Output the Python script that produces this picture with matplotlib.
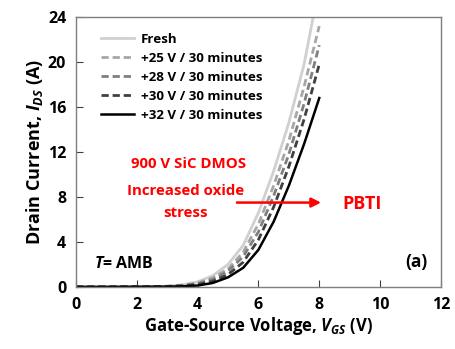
import numpy as np
import matplotlib
matplotlib.use('Agg')
import matplotlib.pyplot as plt

plt.rcParams['font.family'] = ['Open Sans', 'DejaVu Sans']
plt.rcParams['font.weight'] = 'bold'
plt.rcParams['axes.labelweight'] = 'bold'
plt.rcParams['mathtext.fontset'] = 'custom'
plt.rcParams['mathtext.it'] = 'Open Sans:italic:bold'
plt.rcParams['mathtext.rm'] = 'Open Sans:bold'

# gate voltage grid (V) and drain current (A)
vgs = [0, 1, 2, 3, 3.5, 4, 4.5, 5, 5.5, 6, 6.5, 7, 7.5, 8]
vgs_fresh = [0, 1, 2, 3, 3.5, 4, 4.5, 5, 5.5, 6, 6.5, 7, 7.5, 7.8]
ids_fresh = [0, 0, 0.02, 0.06, 0.18, 0.45, 1.0, 2.0, 3.7, 6.6, 10.3, 14.6, 19.8, 24.0]
ids_25 = [0, 0, 0.02, 0.05, 0.15, 0.35, 0.8, 1.6, 3.1, 5.6, 9.0, 13.0, 17.8, 23.2]
ids_28 = [0, 0, 0.02, 0.04, 0.12, 0.28, 0.65, 1.4, 2.7, 4.9, 8.1, 11.8, 16.3, 21.5]
ids_30 = [0, 0, 0.01, 0.03, 0.08, 0.2, 0.5, 1.1, 2.2, 4.2, 7.1, 10.7, 14.9, 19.8]
ids_32 = [0, 0, 0.01, 0.02, 0.05, 0.12, 0.35, 0.85, 1.7, 3.3, 5.8, 9.0, 12.7, 16.8]

labels = ['Fresh', '+25 V / 30 minutes', '+28 V / 30 minutes',
          '+30 V / 30 minutes', '+32 V / 30 minutes']

fig = plt.figure(figsize=(4.55, 3.49), dpi=100)
ax = fig.add_axes([0.167, 0.178, 0.802, 0.773])

dash = (0, (2.6, 1.4))
ax.plot(vgs_fresh, ids_fresh, color='#d0d0d0', lw=2, label=labels[0])
ax.plot(vgs, ids_25, color='#a6a6a6', lw=2, ls=dash, label=labels[1])
ax.plot(vgs, ids_28, color='#7f7f7f', lw=2, ls=dash, label=labels[2])
ax.plot(vgs, ids_30, color='#404040', lw=2, ls=dash, label=labels[3])
ax.plot(vgs, ids_32, color='black', lw=1.8, label=labels[4])

ax.set_xlim(0, 12)
ax.set_ylim(0, 24)
ax.set_xticks(range(0, 13, 2))
ax.set_yticks(range(0, 25, 4))
ax.tick_params(direction='in', length=5, labelsize=11.5, color='#404040', pad=7)
for s in ax.spines.values():
    s.set_color('#7f7f7f')
    s.set_linewidth(1)

ax.set_xlabel('Gate-Source Voltage, $V_{GS}$ (V)', fontsize=12, labelpad=2)
ax.set_ylabel('Drain Current, $I_{DS}$ (A)', fontsize=13, labelpad=2)

ax.legend(loc='upper left', frameon=False, fontsize=9.6, handlelength=2.5,
          handletextpad=0.5, labelspacing=0.45, borderaxespad=0.8,
          bbox_to_anchor=(0.025, 1.0))

ax.text(3.7, 10.9, '900 V SiC DMOS', color='red', fontsize=10.8, ha='center', va='center')
ax.text(3.6, 8.5, 'Increased oxide', color='red', fontsize=10.8, ha='center', va='center')
ax.text(3.6, 6.6, 'stress', color='red', fontsize=10.8, ha='center', va='center')
ax.annotate('', xy=(8.15, 7.5), xytext=(5.2, 7.5),
            arrowprops=dict(arrowstyle='-|>', color='red', lw=1.8, mutation_scale=14))
ax.text(9.4, 7.4, 'PBTI', color='red', fontsize=13, ha='center', va='center')
ax.text(0.6, 2.0, '$T$= AMB', fontsize=11.5, ha='left', va='center')
ax.text(11.2, 2.2, '(a)', fontsize=12.5, ha='center', va='center')

fig.savefig('out.png', dpi=100)
